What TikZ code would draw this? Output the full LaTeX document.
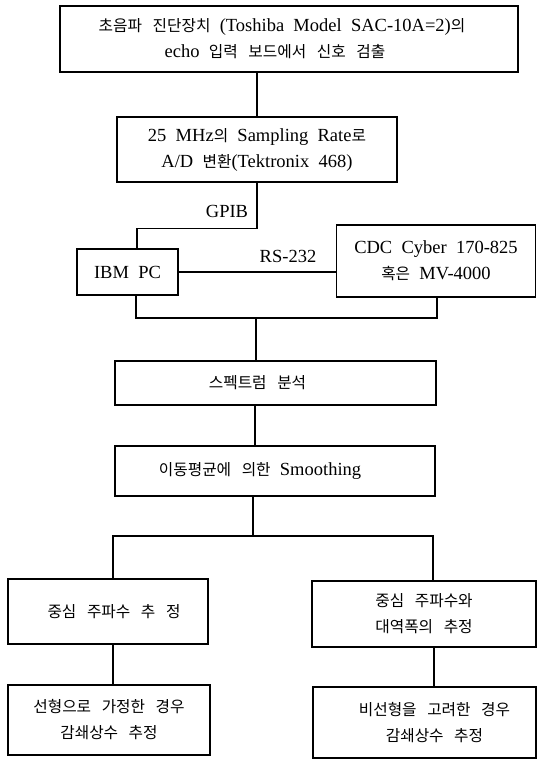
\documentclass[tikz,border=0pt]{standalone}
\usepackage{fontspec}
\setmainfont{Liberation Serif}[WordSpace=2]
\newfontfamily\krfont{Noto Sans CJK KR}[Scale=0.85, WordSpace=3]
\newcommand\K[1]{{\krfont #1}}
\begin{document}
\begin{tikzpicture}[x=1pt,y=-1pt,
  box/.style={draw, line width=1.1pt, align=center, inner sep=0pt,
    font=\fontsize{18.5}{26}\selectfont},
  lbl/.style={inner sep=0pt, font=\fontsize{18.5}{26}\selectfont},
  conn/.style={line width=1.1pt}]
\useasboundingbox (0,0) rectangle (537,759);

\node[box, minimum width=458pt, minimum height=66pt] (top) at (289,39)
  {\hspace*{-14pt}\K{초음파 진단장치} (Toshiba Model SAC-10A=2)\K{의}\\
   \hspace*{-28pt}echo \K{입력 보드에서 신호 검출}};
\node[box, minimum width=280pt, minimum height=65pt] (ad) at (257,149.5)
  {25 MHz\K{의} Sampling Rate\K{로}\\ A/D \K{변환}(Tektronix 468)};
\node[box, minimum width=101pt, minimum height=46pt] (ibm) at (127.5,272) {IBM PC};
\node[box, minimum width=199pt, minimum height=72pt] (cdc) at (436,261)
  {CDC Cyber 170-825\\ \K{혹은} MV-4000};
\node[lbl] (gpib) at (227,211) {GPIB};
\node[lbl] (rs) at (288,256) {RS-232};
\node[box, minimum width=321pt, minimum height=44pt] (spec) at (275.5,383)
  {\hspace*{-36pt}\K{스펙트럼 분석}};
\node[box, minimum width=320pt, minimum height=50pt] (smooth) at (275,471)
  {\hspace*{-30pt}\K{이동평균에 의한} Smoothing};
\node[box, minimum width=200pt, minimum height=65pt] (lc) at (108,611.5)
  {\hspace*{12pt}\K{중심 주파수 추 정}};
\node[box, minimum width=224pt, minimum height=66pt] (rc) at (424,614)
  {\K{중심 주파수와}\\ \K{대역폭의 추정}};
\node[box, minimum width=202pt, minimum height=70pt] (ld) at (109,720)
  {\K{선형으로 가정한 경우}\\ \K{감쇄상수 추정}};
\node[box, minimum width=223pt, minimum height=71pt] (rd) at (424.5,722.5)
  {\hspace*{20pt}\K{비선형을 고려한 경우}\\ \hspace*{20pt}\K{감쇄상수 추정}};

\coordinate (j1) at (256,318);
\coordinate (j2) at (253,536);

\draw[conn] (ad.north) -- (ad.north |- top.south);
\draw[conn] (ad.south) -- ++(0,46) -| ([xshift=9.5pt]ibm.north);
\draw[conn] (ibm.east) -- (ibm.east -| cdc.west);
\draw[conn] ([xshift=8.5pt]ibm.south) |- (j1) -| ([xshift=1pt]cdc.south);
\draw[conn] (j1) -- (j1 |- spec.north);
\draw[conn] ([xshift=-20.5pt]spec.south) -- ([xshift=-20.5pt]spec.south |- smooth.north);
\draw[conn] (j2 |- smooth.south) -- (j2);
\draw[conn] ([xshift=5pt]lc.north) |- (j2) -| ([xshift=9pt]rc.north);
\draw[conn] ([xshift=5pt]lc.south) -- ([xshift=5pt]lc.south |- ld.north);
\draw[conn] ([xshift=10pt]rc.south) -- ([xshift=10pt]rc.south |- rd.north);
\end{tikzpicture}
\end{document}
